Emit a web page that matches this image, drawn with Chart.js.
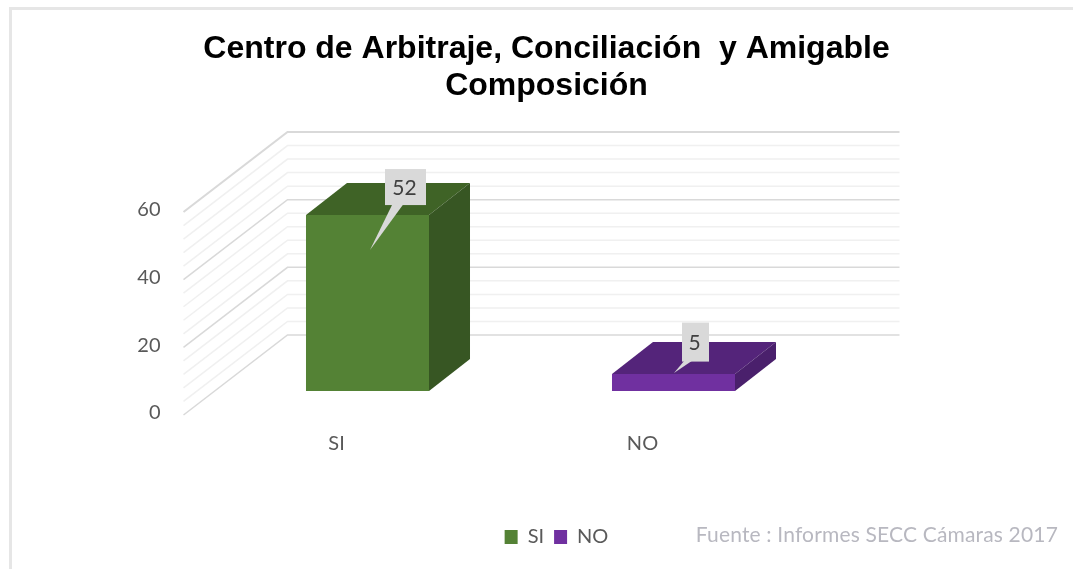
<!DOCTYPE html>
<html>
<head>
<meta charset="utf-8">
<script src="https://cdn.jsdelivr.net/npm/chart.js@4/dist/chart.umd.min.js"></script>
<style>
  html, body { margin: 0; background: #fff; }
  canvas { display: block; }
</style>
</head>
<body>
<canvas id="myChart" width="1073" height="569"></canvas>
<script>
const categories = ['SI', 'NO'];
const values = [52, 5];
const yTicks = [0, 20, 40, 60];
const wallLines = [0, 4, 8, 12, 16, 20, 24, 28, 32, 36, 40, 44, 48, 52, 56, 60];
const titleLines = ['Centro de Arbitraje, Conciliación  y Amigable', 'Composición'];
const sourceNote = 'Fuente : Informes SECC Cámaras 2017';

const frontColors = ['#548235', '#7030a0'];
const topColors = ['#3f6326', '#54247a'];
const sideColors = ['#375623', '#4a206c'];

const FONT = 'Lato, "Open Sans", sans-serif';

// fake 3d: the wall sits behind the axis plane, bars stand in the middle of the floor
const wallDx = 104, wallDy = 80;
const barShiftX = 31, barShiftY = 24;
const barDx = 41, barDy = 32;

// where each callout box goes, measured from the bar's front face
const callouts = [
    { boxX: 38, boxY: -28, w: 41, h: 36, tipX: 2.5, tipY: 35, baseA: -13, baseB: -2 },
    { boxX: 22, boxY: -32, w: 27, h: 39, tipX: 0.5, tipY: -1, baseA: -11, baseB: -3 }
];

const fake3d = {
    id: 'fake3d',
    beforeDraw(chart) {
        const ctx = chart.ctx;
        ctx.save();
        ctx.fillStyle = '#fff';
        ctx.fillRect(0, 0, chart.width, chart.height);
        // frame only shows on the top and left
        ctx.strokeStyle = '#e6e6e6';
        ctx.lineWidth = 3;
        ctx.beginPath();
        ctx.moveTo(10.5, chart.height);
        ctx.lineTo(10.5, 8.5);
        ctx.lineTo(chart.width, 8.5);
        ctx.stroke();
        ctx.restore();
    },
    afterLayout(chart) {
        // legend sits a little right of the title in the original
        chart.legend.left += 10;
        chart.legend.right += 10;
    },
    beforeDatasetsDraw(chart) {
        const ctx = chart.ctx;
        const y = chart.scales.y;
        const left = chart.chartArea.left;
        const right = chart.chartArea.right;

        ctx.save();
        wallLines.forEach((v) => {
            const py = y.getPixelForValue(v);
            const major = yTicks.includes(v);
            ctx.strokeStyle = major ? '#d9d9d9' : '#f0f0f0';
            ctx.lineWidth = v === 60 ? 2 : 1.5;
            ctx.beginPath();
            ctx.moveTo(left, py);
            ctx.lineTo(left + wallDx, py - wallDy);
            ctx.lineTo(right + wallDx, py - wallDy);
            ctx.stroke();
        });
        ctx.restore();

        ctx.save();
        ctx.translate(barShiftX, -barShiftY);
        chart.getDatasetMeta(0).data.forEach((bar, i) => {
            const l = bar.x - bar.width / 2;
            const r = bar.x + bar.width / 2;
            ctx.fillStyle = topColors[i];
            ctx.beginPath();
            ctx.moveTo(l, bar.y);
            ctx.lineTo(l + barDx, bar.y - barDy);
            ctx.lineTo(r + barDx, bar.y - barDy);
            ctx.lineTo(r, bar.y);
            ctx.closePath();
            ctx.fill();
            ctx.fillStyle = sideColors[i];
            ctx.beginPath();
            ctx.moveTo(r, bar.y);
            ctx.lineTo(r + barDx, bar.y - barDy);
            ctx.lineTo(r + barDx, bar.base - barDy);
            ctx.lineTo(r, bar.base);
            ctx.closePath();
            ctx.fill();
        });
        // the save stays open so the library paints the front faces shifted too
    },
    afterDatasetsDraw(chart) {
        const ctx = chart.ctx;
        ctx.restore();

        ctx.save();
        chart.getDatasetMeta(0).data.forEach((bar, i) => {
            const c = callouts[i];
            const cx = bar.x + barShiftX;
            const cy = bar.y - barShiftY;
            const boxX = cx + c.boxX;
            const boxY = cy + c.boxY;
            ctx.fillStyle = '#d9d9d9';
            ctx.fillRect(boxX - c.w / 2, boxY - c.h / 2, c.w, c.h);
            ctx.beginPath();
            ctx.moveTo(boxX + c.baseA, boxY + c.h / 2 - 1);
            ctx.lineTo(cx + c.tipX, cy + c.tipY);
            ctx.lineTo(boxX + c.baseB, boxY + c.h / 2 - 1);
            ctx.closePath();
            ctx.fill();
            ctx.fillStyle = '#404040';
            ctx.font = '21px ' + FONT;
            ctx.textAlign = 'center';
            ctx.textBaseline = 'middle';
            ctx.fillText(String(values[i]), boxX - 1, boxY + 1);
        });
        ctx.restore();
    },
    afterDraw(chart) {
        const ctx = chart.ctx;
        ctx.save();
        ctx.fillStyle = '#b8b8c0';
        ctx.font = '21px ' + FONT;
        ctx.letterSpacing = '0.17px';
        ctx.textAlign = 'right';
        ctx.textBaseline = 'middle';
        ctx.fillText(sourceNote, 1058, 535);
        ctx.restore();
    }
};

const ctx = document.getElementById('myChart').getContext('2d');
new Chart(ctx, {
    type: 'bar',
    data: {
        labels: categories,
        datasets: [{
            data: values,
            backgroundColor: frontColors,
            borderWidth: 0,
            barPercentage: 0.402,
            categoryPercentage: 1,
            clip: false
        }]
    },
    options: {
        responsive: false,
        animation: false,
        layout: { padding: { left: 20, right: 0, top: 0, bottom: 12 } },
        scales: {
            x: {
                grid: { display: false },
                border: { display: false },
                ticks: { color: '#595959', font: { family: FONT, size: 20 }, padding: 9 },
                afterFit(scale) { scale.height = 102; }
            },
            y: {
                min: 0,
                max: 60,
                grid: { display: false, drawTicks: false },
                border: { display: false },
                ticks: {
                    stepSize: 20,
                    color: '#595959',
                    font: { family: FONT, size: 20 },
                    padding: 23,
                    labelOffset: -2
                },
                afterFit(scale) { scale.width = 163.5; }
            },
            // empty axis, only keeps the plot narrower than the title and legend
            spacer: {
                type: 'linear',
                position: 'right',
                grid: { display: false, drawTicks: false },
                border: { display: false },
                ticks: { display: false },
                afterFit(scale) { scale.width = 277.5; }
            }
        },
        plugins: {
            title: {
                display: true,
                text: titleLines,
                color: '#000',
                font: { family: '"Liberation Sans"', size: 32, weight: 'bold', lineHeight: 1.15 },
                padding: { top: 31, bottom: 107.4 }
            },
            legend: {
                position: 'bottom',
                onClick: null,
                labels: {
                    boxWidth: 13,
                    boxHeight: 14,
                    color: '#595959',
                    font: { family: FONT, size: 20 },
                    generateLabels: () => categories.map((c, i) => ({
                        text: c,
                        fillStyle: frontColors[i],
                        strokeStyle: frontColors[i],
                        lineWidth: 0,
                        fontColor: '#595959',
                        index: i
                    }))
                }
            },
            tooltip: { enabled: false }
        }
    },
    plugins: [fake3d]
});
</script>
</body>
</html>
